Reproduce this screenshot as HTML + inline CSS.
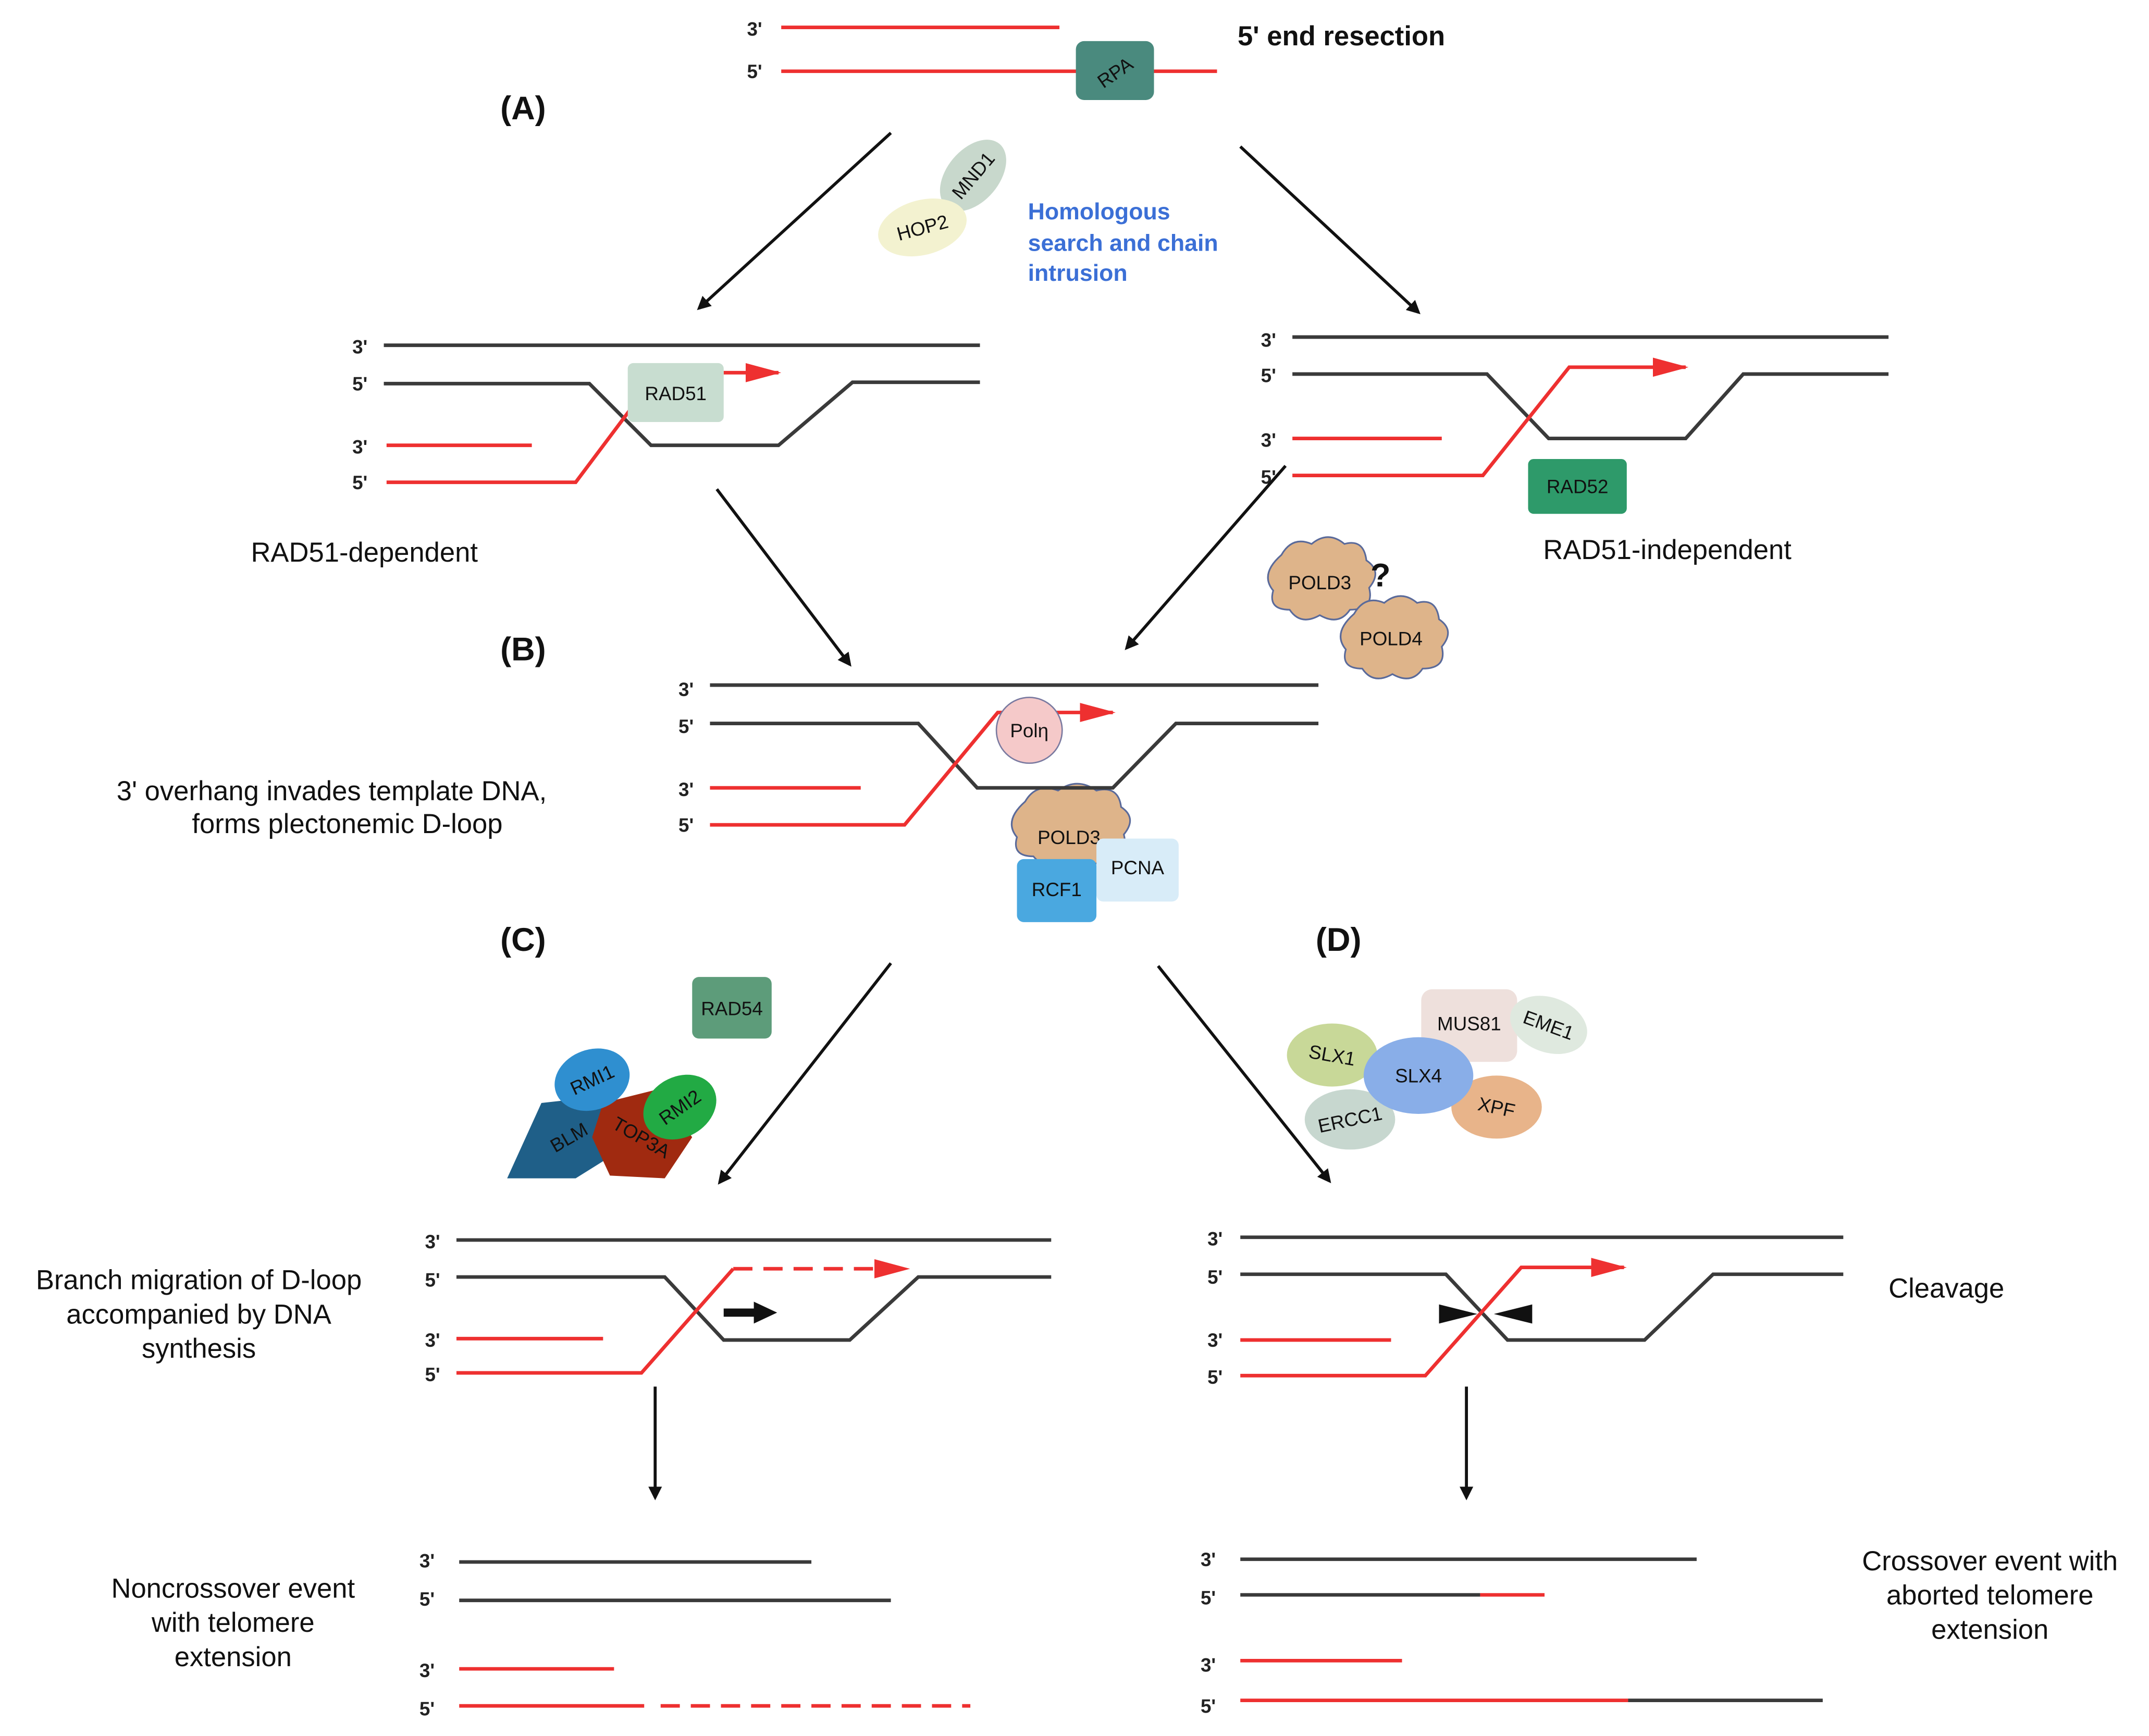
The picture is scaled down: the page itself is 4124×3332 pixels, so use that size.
<!DOCTYPE html>
<html><head><meta charset="utf-8"><style>
html,body{margin:0;padding:0;background:#fff;}
svg{display:block;}
text{font-family:"Liberation Sans",Arial,sans-serif;}
.l{font-size:14px;font-weight:bold;fill:#222;}
.t{font-size:20px;fill:#111;}
.h{font-size:24px;font-weight:bold;fill:#111;}
.p{font-size:14px;fill:#111;text-anchor:middle;}
.k{stroke:#3a3a3a;stroke-width:2.6;fill:none;}
.r{stroke:#ee3030;stroke-width:2.6;fill:none;}
.a{stroke:#111;stroke-width:2.2;fill:none;marker-end:url(#ah);}
</style></head><body>
<svg width="4124" height="3332" viewBox="0 0 1568 1267" xmlns="http://www.w3.org/2000/svg">
<defs>
<marker id="ah" markerWidth="10" markerHeight="10" refX="8" refY="5" orient="auto" markerUnits="userSpaceOnUse"><path d="M0,0 L10,5 L0,10 z" fill="#111"/></marker>
<marker id="rh" markerWidth="26" markerHeight="14" refX="24" refY="7" orient="auto" markerUnits="userSpaceOnUse"><path d="M0,0 L26,7 L0,14 z" fill="#ee3030"/></marker>
</defs>
<rect width="1568" height="1267" fill="#fff"/>

<!-- top -->
<text class="l" x="545" y="26">3'</text>
<line class="r" x1="570" y1="20" x2="773" y2="20"/>
<text class="l" x="545" y="57">5'</text>
<line class="r" x1="570" y1="52" x2="888" y2="52"/>
<rect x="785" y="30" width="57" height="43" rx="6" fill="#4a8a7e"/>
<text x="813" y="58" class="p" transform="rotate(-35 813 52)" fill="#222">RPA</text>
<text class="t" x="903" y="33" font-weight="bold" style="font-weight:600">5' end resection</text>
<text class="h" x="365" y="87">(A)</text>
<line class="a" x1="650" y1="97" x2="510" y2="225"/>
<line class="a" x1="905" y1="107" x2="1035" y2="228"/>
<ellipse cx="710" cy="128" rx="30" ry="19" transform="rotate(-50 710 128)" fill="#c8d8cc"/>
<text class="p" x="710" y="133" transform="rotate(-50 710 128)">MND1</text>
<ellipse cx="673" cy="166" rx="33" ry="20" transform="rotate(-15 673 166)" fill="#f3f2d0"/>
<text class="p" x="673" y="171" transform="rotate(-15 673 166)">HOP2</text>
<g fill="#3b6fd6" font-size="17" font-weight="bold"><text x="750" y="160">Homologous</text><text x="750" y="183">search and chain</text><text x="750" y="205">intrusion</text></g>

<!-- A left -->
<text class="l" x="257" y="258">3'</text>
<line class="k" x1="280" y1="252" x2="715" y2="252"/>
<text class="l" x="257" y="285">5'</text>
<polyline class="k" points="280,280 430,280 475,325 568,325 622,279 715,279"/>
<text class="l" x="257" y="331">3'</text>
<line class="r" x1="282" y1="325" x2="388" y2="325"/>
<text class="l" x="257" y="357">5'</text>
<polyline class="r" points="282,352 420,352 465,292"/>
<line class="r" x1="528" y1="272" x2="568" y2="272" marker-end="url(#rh)"/>
<rect x="458" y="265" width="70" height="43" rx="4" fill="#c8ddd0"/>
<text class="p" x="493" y="292">RAD51</text>
<text class="t" x="183" y="410">RAD51-dependent</text>

<!-- A right -->
<text class="l" x="920" y="253">3'</text>
<line class="k" x1="943" y1="246" x2="1378" y2="246"/>
<text class="l" x="920" y="279">5'</text>
<polyline class="k" points="943,273 1085,273 1130,320 1230,320 1272,273 1378,273"/>
<text class="l" x="920" y="326">3'</text>
<line class="r" x1="943" y1="320" x2="1052" y2="320"/>
<text class="l" x="920" y="353">5'</text>
<polyline class="r" points="943,347 1082,347 1145,268 1230,268" marker-end="url(#rh)"/>
<rect x="1115" y="335" width="72" height="40" rx="4" fill="#2e9a6a"/>
<text class="p" x="1151" y="360">RAD52</text>
<text class="t" x="1126" y="408">RAD51-independent</text>

<line class="a" x1="523" y1="357" x2="620" y2="485"/>
<line class="a" x1="938" y1="340" x2="822" y2="473"/>

<!-- clouds -->
<g fill="#deb48a" stroke="#5a6a9a" stroke-width="1.2">
<path d="M935,405 q8,-14 22,-8 q12,-10 24,0 q14,-4 16,12 q12,8 2,20 q4,16 -14,16 q-8,12 -22,4 q-14,8 -22,-4 q-16,0 -12,-14 q-10,-12 6,-26z"/>
<path d="M988,448 q8,-14 22,-8 q12,-10 24,0 q14,-4 16,12 q12,8 2,20 q4,16 -14,16 q-8,12 -22,4 q-14,8 -22,-4 q-16,0 -12,-14 q-10,-12 6,-26z"/>
<path d="M748,585 q8,-14 24,-8 q14,-10 28,0 q16,-4 18,12 q12,8 2,20 q4,16 -14,16 q-10,12 -26,4 q-16,8 -26,-4 q-16,0 -12,-14 q-10,-12 6,-26z"/>
</g>
<text class="p" x="963" y="430">POLD3</text>
<text class="p" x="1015" y="471">POLD4</text>
<text x="1000" y="428" font-size="24" font-weight="bold" fill="#111">?</text>

<!-- B -->
<text class="h" x="365" y="482">(B)</text>
<text class="l" x="495" y="508">3'</text>
<line class="k" x1="518" y1="500" x2="962" y2="500"/>
<text class="l" x="495" y="535">5'</text>
<polyline class="k" points="518,528 670,528 713,575 812,575 858,528 962,528"/>
<text class="l" x="495" y="581">3'</text>
<line class="r" x1="518" y1="575" x2="628" y2="575"/>
<text class="l" x="495" y="607">5'</text>
<polyline class="r" points="518,602 660,602 728,520 812,520" marker-end="url(#rh)"/>
<circle cx="751" cy="533" r="24" fill="#f5c9c9" stroke="#7a7aa0" stroke-width="1"/>
<text class="p" x="751" y="538">Polη</text>
<text class="p" x="780" y="616">POLD3</text>
<rect x="800" y="612" width="60" height="46" rx="5" fill="#d8ecf8"/>
<text class="p" x="830" y="638">PCNA</text>
<rect x="742" y="627" width="58" height="46" rx="5" fill="#4aa8e0"/>
<text class="p" x="771" y="654">RCF1</text>
<text class="t" x="85" y="584">3' overhang invades template DNA,</text>
<text class="t" x="140" y="608">forms plectonemic D-loop</text>

<text class="h" x="365" y="694">(C)</text>
<text class="h" x="960" y="694">(D)</text>
<line class="a" x1="650" y1="703" x2="525" y2="863"/>
<line class="a" x1="845" y1="705" x2="970" y2="862"/>

<!-- C proteins -->
<rect x="505" y="713" width="58" height="45" rx="5" fill="#5d9c7a"/>
<text class="p" x="534" y="741">RAD54</text>
<polygon points="370,860 395,805 440,800 460,835 420,860" fill="#1f5f88"/>
<text class="p" x="415" y="835" transform="rotate(-30 415 830)">BLM</text>
<polygon points="440,805 480,795 505,830 485,860 445,858 432,830" fill="#a02a10"/>
<text class="p" x="468" y="835" transform="rotate(30 468 830)">TOP3A</text>
<ellipse cx="432" cy="788" rx="28" ry="22" transform="rotate(-20 432 788)" fill="#2f8fd0"/>
<text class="p" x="432" y="793" transform="rotate(-25 432 788)">RMI1</text>
<ellipse cx="496" cy="808" rx="28" ry="22" transform="rotate(-30 496 808)" fill="#22aa44"/>
<text class="p" x="496" y="813" transform="rotate(-35 496 808)">RMI2</text>

<!-- D proteins -->
<ellipse cx="972" cy="770" rx="33" ry="23" fill="#c8d898"/>
<text class="p" x="972" y="775" transform="rotate(10 972 770)">SLX1</text>
<rect x="1037" y="722" width="70" height="53" rx="8" fill="#eee0dc"/>
<ellipse cx="1130" cy="748" rx="29" ry="20" transform="rotate(20 1130 748)" fill="#dfe9df"/>
<text class="p" x="1130" y="753" transform="rotate(20 1130 748)">EME1</text>
<text class="p" x="1072" y="752">MUS81</text>
<ellipse cx="985" cy="817" rx="33" ry="22" fill="#c7d7cf"/>
<ellipse cx="1092" cy="808" rx="33" ry="23" fill="#e8b48a"/>
<ellipse cx="1035" cy="785" rx="40" ry="28" fill="#89aee8"/>
<text class="p" x="1035" y="790">SLX4</text>
<text class="p" x="985" y="822" transform="rotate(-12 985 817)">ERCC1</text>
<text class="p" x="1092" y="813" transform="rotate(12 1092 808)">XPF</text>

<!-- C panel -->
<text class="l" x="310" y="911">3'</text>
<line class="k" x1="333" y1="905" x2="767" y2="905"/>
<text class="l" x="310" y="939">5'</text>
<polyline class="k" points="333,932 485,932 528,978 620,978 670,932 767,932"/>
<text class="l" x="310" y="983">3'</text>
<line class="r" x1="333" y1="977" x2="440" y2="977"/>
<text class="l" x="310" y="1008">5'</text>
<polyline class="r" points="333,1002 468,1002 535,926"/>
<line class="r" x1="535" y1="926" x2="662" y2="926" stroke-dasharray="14,8" marker-end="url(#rh)"/>
<line x1="528" y1="958" x2="552" y2="958" stroke="#111" stroke-width="6"/>
<path d="M550,950 L567,958 L550,966z" fill="#111"/>
<g class="t" text-anchor="middle"><text x="145" y="941">Branch migration of D-loop</text><text x="145" y="966">accompanied by DNA</text><text x="145" y="991">synthesis</text></g>

<!-- D panel -->
<text class="l" x="881" y="909">3'</text>
<line class="k" x1="905" y1="903" x2="1345" y2="903"/>
<text class="l" x="881" y="937">5'</text>
<polyline class="k" points="905,930 1055,930 1100,978 1200,978 1250,930 1345,930"/>
<text class="l" x="881" y="983">3'</text>
<line class="r" x1="905" y1="978" x2="1015" y2="978"/>
<text class="l" x="881" y="1010">5'</text>
<polyline class="r" points="905,1004 1040,1004 1110,925 1185,925" marker-end="url(#rh)"/>
<path d="M1050,952 L1078,959 L1050,966z" fill="#111"/>
<path d="M1118,952 L1090,959 L1118,966z" fill="#111"/>
<text class="t" x="1378" y="947">Cleavage</text>

<line class="a" x1="478" y1="1012" x2="478" y2="1093"/>
<line class="a" x1="1070" y1="1012" x2="1070" y2="1093"/>

<!-- bottom left -->
<text class="l" x="306" y="1144">3'</text>
<line class="k" x1="335" y1="1140" x2="592" y2="1140"/>
<text class="l" x="306" y="1172">5'</text>
<line class="k" x1="335" y1="1168" x2="650" y2="1168"/>
<text class="l" x="306" y="1224">3'</text>
<line class="r" x1="335" y1="1218" x2="448" y2="1218"/>
<text class="l" x="306" y="1252">5'</text>
<line class="r" x1="335" y1="1245" x2="470" y2="1245"/>
<line class="r" x1="482" y1="1245" x2="708" y2="1245" stroke-dasharray="14,8"/>
<g class="t" text-anchor="middle"><text x="170" y="1166">Noncrossover event</text><text x="170" y="1191">with  telomere</text><text x="170" y="1216">extension</text></g>

<!-- bottom right -->
<text class="l" x="876" y="1143">3'</text>
<line class="k" x1="905" y1="1138" x2="1238" y2="1138"/>
<text class="l" x="876" y="1171">5'</text>
<line class="k" x1="905" y1="1164" x2="1080" y2="1164"/>
<line class="r" x1="1080" y1="1164" x2="1127" y2="1164"/>
<text class="l" x="876" y="1220">3'</text>
<line class="r" x1="905" y1="1212" x2="1023" y2="1212"/>
<text class="l" x="876" y="1250">5'</text>
<line class="r" x1="905" y1="1241" x2="1188" y2="1241"/>
<line class="k" x1="1188" y1="1241" x2="1330" y2="1241"/>
<g class="t" text-anchor="middle"><text x="1452" y="1146">Crossover event with</text><text x="1452" y="1171">aborted telomere</text><text x="1452" y="1196">extension</text></g>
</svg>
</body></html>
